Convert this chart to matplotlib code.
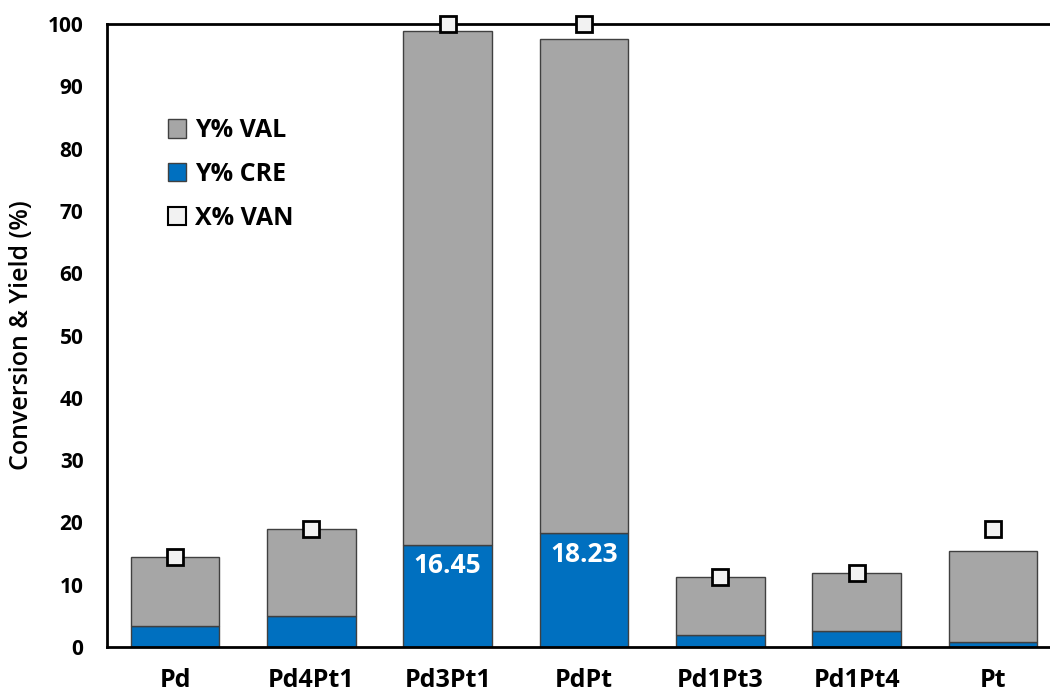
"""Stacked bar chart: VAN conversion and VAL/CRE yields over Pd-Pt catalysts."""

import matplotlib

matplotlib.use("Agg")
import matplotlib.pyplot as plt
import numpy as np
from matplotlib.patches import Patch

catalysts = ["Pd", "Pd4Pt1", "Pd3Pt1", "PdPt", "Pd1Pt3", "Pd1Pt4", "Pt"]
y_cre = [3.4, 5.0, 16.45, 18.23, 2.0, 2.5, 0.8]
y_total = [14.4, 18.9, 98.9, 97.6, 11.2, 11.8, 15.4]  # top of the gray (VAL) segment
x_van = [14.5, 19.0, 100.0, 100.0, 11.3, 11.8, 18.9]
labelled = {2: "16.45", 3: "18.23"}

GRAY = "#A6A6A6"
BLUE = "#0070C0"
EDGE = "#404040"

plt.rcParams["font.family"] = ["Open Sans", "DejaVu Sans"]

fig = plt.figure(figsize=(10.5, 7), dpi=100)
ax = fig.add_axes([0.1019, 0.0757, 0.9086, 0.89])

x = np.arange(len(catalysts))
width = 0.65
y_val = [t - c for t, c in zip(y_total, y_cre)]

ax.bar(x, y_cre, width, color=BLUE, edgecolor=EDGE, linewidth=1.0, zorder=2)
ax.bar(x, y_val, width, bottom=y_cre, color=GRAY, edgecolor=EDGE, linewidth=1.0, zorder=2)
ax.plot(x, x_van, linestyle="none", marker="s", markersize=11.5, markerfacecolor="#F2F2F2",
        markeredgecolor="black", markeredgewidth=2.0, clip_on=False, zorder=5)

for i, txt in labelled.items():
    ax.annotate(txt, (x[i], y_cre[i]), textcoords="offset points", xytext=(0, -15),
                ha="center", va="center", color="white", fontsize=19, fontweight="bold")

ax.set_xlim(-0.5, len(catalysts) - 0.5)
ax.set_ylim(0, 100)
ax.set_yticks(np.arange(0, 101, 10))
ax.set_xticks(x)
ax.set_xticklabels(catalysts, fontsize=18, fontweight="bold")
for lab in ax.get_yticklabels():
    lab.set_fontsize(15)
    lab.set_fontweight("bold")
ax.tick_params(axis="y", length=0, pad=17)
ax.tick_params(axis="x", length=0, pad=15)
ax.set_ylabel("Conversion & Yield (%)", fontsize=18, fontweight="semibold", labelpad=10)

for side in ["left", "bottom", "top"]:
    ax.spines[side].set_linewidth(2.0)
    ax.spines[side].set_color("black")
ax.spines["right"].set_visible(False)

handles = [
    Patch(facecolor=GRAY, edgecolor=EDGE, linewidth=1.0),
    Patch(facecolor=BLUE, edgecolor=EDGE, linewidth=1.0),
    Patch(facecolor="#F2F2F2", edgecolor="black", linewidth=1.5),
]
ax.legend(handles, ["Y% VAL", "Y% CRE", "X% VAN"], loc="upper left", bbox_to_anchor=(0.04, 0.885),
          frameon=False, prop={"size": 18, "weight": "bold"}, handlelength=0.75, handleheight=0.75,
          handletextpad=0.35, labelspacing=0.75)

fig.savefig("out.png", dpi=100)
